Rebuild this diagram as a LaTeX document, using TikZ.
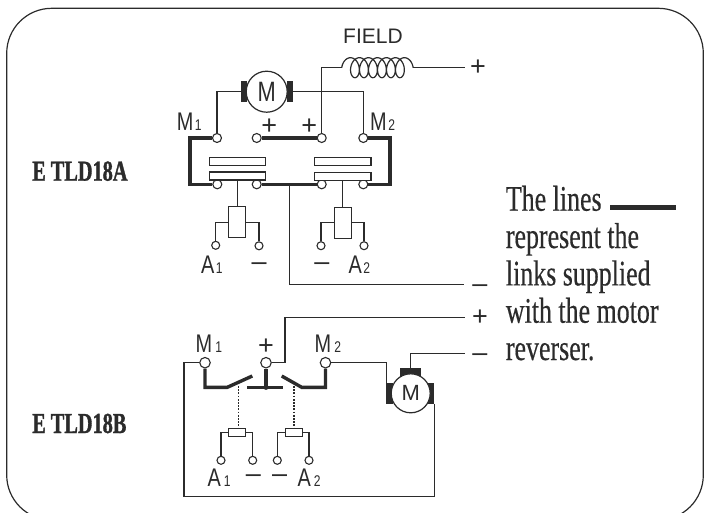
\documentclass[tikz,border=0pt]{standalone}
\usepackage{fontspec}
\setmainfont{Liberation Sans}
\newfontfamily\condsans[FakeStretch=0.78]{Liberation Sans}
\newfontfamily\plainsans{Liberation Sans}
\newfontfamily\condserif[FakeStretch=0.72,FakeBold=0.35]{Liberation Serif}
\newfontfamily\condbold[FakeStretch=0.70,FakeBold=1.2]{Liberation Serif Bold}
\definecolor{ink}{HTML}{2B2B2B}
\newcommand{\lblM}[2]{{\condsans\fontsize{25.5}{25.5}\selectfont #1\fontsize{15.5}{15.5}\selectfont\kern1.5pt #2}}
\tikzset{
  wire/.style={draw=ink,line width=1.2pt},
  link/.style={draw=ink,line width=3.4pt,line cap=butt,line join=miter},
  term/.style={circle,draw=ink,line width=1.1pt,fill=white,minimum size=#1,inner sep=0pt},
  term/.default=9pt,
  motor/.style={circle,draw=ink,line width=1.2pt,fill=white,minimum size=#1,inner sep=0pt,text=ink},
  brush/.style={rectangle,fill=ink,draw=none,inner sep=0pt,minimum width=#1},
  contact/.style={rectangle,draw=ink,line width=1.1pt,fill=white,inner sep=0pt,minimum width=56.5pt,minimum height=8pt},
  relay/.style={rectangle,draw=ink,line width=1.1pt,fill=white,inner sep=0pt,minimum width=17pt},
  lbl/.style={anchor=base west,inner sep=0pt,text=ink},
  sym/.style={anchor=base,inner sep=0pt,text=ink,font=\plainsans\fontsize{27}{27}\selectfont},
  prose/.style={anchor=base west,inner sep=0pt,text=ink,font=\condserif\fontsize{36}{37}\selectfont},
  model/.style={anchor=base west,inner sep=0pt,text=ink,font=\condbold\fontsize{29}{29}\selectfont},
  dots/.style={draw=ink,line width=1.4pt,dash pattern=on 1.7pt off 1.5pt},
}
\begin{document}
\begin{tikzpicture}[x=1pt,y=-1pt]
\useasboundingbox (0,0) rectangle (715,512);
\clip (0,0) rectangle (715,512);
\draw[ink,line width=1.2pt,rounded corners=45pt] (6.7,8.3) rectangle (703.3,520);

% ---------- E TLD18A ----------
\node[model] (modelA) at (32,180.7) {E TLD18A};
\node[lbl,font=\plainsans\fontsize{21}{21}\selectfont] (field) at (343,43) {FIELD};

\node[brush=6pt,minimum height=21pt] (brAL) at (244,91.7) {};
\node[brush=6pt,minimum height=21pt] (brAR) at (289.5,91.7) {};
\node[motor=41pt,font=\condsans\fontsize{28}{28}\selectfont] (motA) at (266.7,91.7) {M};

\node[term] (a1) at (217,138) {};
\node[term] (a2) at (256.7,138) {};
\node[term] (a3) at (321.7,138) {};
\node[term] (a4) at (363.3,138) {};
\node[term] (b1) at (217.3,184.3) {};
\node[term] (b2) at (256.7,184.3) {};
\node[term] (b3) at (321.7,184.3) {};
\node[term] (b4) at (363.3,184.3) {};

\draw[wire] (brAL.west) -| (a1);
\draw[wire] (brAR.east) -| (a4);

\coordinate (coilL) at (341.7,67.7);
\coordinate (coilR) at (413.2,67.7);
\coordinate (fieldEnd) at (465,67.7);
\draw[wire] (a3) |- (coilL);
\draw[wire] (coilR) -- (fieldEnd);
\draw[wire,samples=220,variable=\t,domain=-90:2250]
  plot[smooth] ({348.2+0.025*(\t+90)+6.5*sin(\t)},{67.7-10*cos(\t)});
\node[sym] (plusField) at (478,75.5) {+};

\node[lbl] (labM1a) at (176.7,130.7) {\lblM{M}{1}};
\node[lbl] (labM2a) at (370,130.7) {\lblM{M}{2}};
\node[sym] (plusA1) at (269.3,134) {+};
\node[sym] (plusA2) at (309.3,134) {+};

\coordinate (lkTL) at (190,138);
\coordinate (lkBL) at (190,184.3);
\coordinate (lkTR) at (390,138);
\coordinate (lkBR) at (390,184.3);
\draw[link] (a1) -- (lkTL) -- (lkBL) -- (b1);
\draw[link] (a2) -- (a3);
\draw[link] (a4) -- (lkTR) -- (lkBR) -- (b4);
\draw[link] (b2) -- (b3);

\node[contact] (c1t) at (237.5,161.7) {};
\node[contact] (c1b) at (237.5,176) {};
\node[contact] (c2t) at (342.7,161.7) {};
\node[contact] (c2b) at (342.7,176.3) {};

\node[relay,minimum height=31pt] (r1) at (237.3,222.2) {};
\node[relay,minimum height=31pt] (r2) at (342.6,222.8) {};
\node[term=8pt] (d1) at (215.7,245.3) {};
\node[term=8pt] (d2) at (259,245.8) {};
\node[term=8pt] (d3) at (321,245.7) {};
\node[term=8pt] (d4) at (364,245.7) {};
\draw[wire] (c1b.south -| r1.north) -- (r1.north);
\draw[wire] (c2b.south -| r2.north) -- (r2.north);
\draw[wire] (r1.west) -| (d1);
\draw[wire] (r1.east) -| (d2);
\draw[wire] (r2.west) -| (d3);
\draw[wire] (r2.east) -| (d4);

\node[lbl] (labA1a) at (201,273.3) {\lblM{A}{1}};
\node[lbl] (labA2a) at (348.5,273.3) {\lblM{A}{2}};
\node[sym] (minusA1) at (259.2,270.5) {–};
\node[sym] (minusA2) at (321.8,270.5) {–};

\coordinate (minusJ) at (289.3,184.3);
\coordinate (minusEnd) at (464.3,284.7);
\draw[wire] (minusJ) |- (minusEnd);
\node[sym] (minusTop) at (480,292.5) {–};

% ---------- legend ----------
\node[prose] (t1) at (505.7,210.7) {The lines};
\node[prose] (t2) at (505.7,248) {represent the};
\node[prose] (t3) at (505.7,285.4) {links supplied};
\node[prose] (t4) at (505.7,322.7) {with the motor};
\node[prose] (t5) at (505.7,360) {reverser.};
\coordinate (legL) at (610,207.3);
\coordinate (legR) at (676,207.3);
\draw[ink,line width=5.5pt] (legL) -- (legR);

% ---------- E TLD18B ----------
\node[model] (modelB) at (32,433) {E TLD18B};

\node[term=10.5pt] (e1) at (205,362.7) {};
\node[term=10.5pt] (e2) at (266,362.7) {};
\node[term=10.5pt] (e3) at (325.5,362.7) {};

\node[brush=7pt,minimum height=21pt] (brBL) at (389.3,393.7) {};
\node[brush=6pt,minimum height=21pt] (brBR) at (431.3,393.7) {};
\node[brush=20.5pt,minimum height=7.5pt] (brBT) at (410.3,372.2) {};
\node[motor=39pt,font=\plainsans\fontsize{22}{22}\selectfont] (motB) at (410.7,393.3) {M};

\coordinate (plusCorner) at (285,362.7);
\coordinate (plusTop) at (285,317.3);
\coordinate (plusEnd) at (465,317.3);
\draw[wire] (e2) -- (plusCorner) -- (plusTop) -- (plusEnd);
\node[sym] (plusB) at (480,325.5) {+};
\coordinate (negEnd) at (465,353.3);
\draw[wire] (brBT.north) |- (negEnd);
\node[sym] (minusB) at (480,361.8) {–};
\coordinate (m2c) at (386.7,362.7);
\draw[wire] (e3) -- (m2c) -- (m2c |- brBL.north);
\coordinate (frameBL) at (184,496.7);
\coordinate (frameTL) at (184,362.7);
\coordinate (frameBR) at (434.3,496.7);
\draw[wire] (e1) -- (frameTL) -- (frameBL) -- (frameBR) -- (frameBR |- brBR.south);

\coordinate (swL0) at (205,387.3);
\coordinate (swL1) at (227.3,387.3);
\coordinate (swL2) at (252.3,376);
\coordinate (swR0) at (325.5,387.3);
\coordinate (swR1) at (301.7,387.3);
\coordinate (swR2) at (281.7,376);
\coordinate (swMl) at (247.3,387.3);
\coordinate (swMr) at (283.3,387.3);
\coordinate (swM) at (266,387.3);
\draw[link] (e1) -- (swL0) -- (swL1) -- (swL2);
\draw[link] (e3) -- (swR0) -- (swR1) -- (swR2);
\draw[link] (e2) -- (swM);
\draw[link] (swMl) -- (swMr);
\fill[ink] (swM) circle (2.6pt);

\node[relay,minimum height=8.4pt] (r3) at (237.3,432.5) {};
\node[relay,minimum height=8.4pt] (r4) at (294,432.5) {};
\coordinate (dotA) at (238.3,386);
\coordinate (dotB) at (294,386);
\draw[dots] (dotA) -- (dotA |- r3.north);
\draw[dots] (dotB) -- (dotB |- r4.north);

\node[term=8pt] (f1) at (221,460.3) {};
\node[term=8pt] (f2) at (252.7,460.3) {};
\node[term=8pt] (f3) at (277.3,460.3) {};
\node[term=8pt] (f4) at (309,460.3) {};
\draw[wire] (r3.west) -| (f1);
\draw[wire] (r3.east) -| (f2);
\draw[wire] (r4.west) -| (f3);
\draw[wire] (r4.east) -| (f4);

\node[lbl] (labM1b) at (195.5,352.7) {\lblM{M}{\kern1.5pt1}};
\node[sym] (plusM) at (266,354.5) {+};
\node[lbl] (labM2b) at (314.5,352.7) {\lblM{M}{\kern1.5pt2}};
\node[lbl] (labA1b) at (207.5,486) {\lblM{A}{\kern1.5pt1}};
\node[sym] (minusB1) at (253.5,482.5) {–};
\node[sym] (minusB2) at (279.7,482.5) {–};
\node[lbl] (labA2b) at (297.5,486) {\lblM{A}{\kern1.5pt2}};
\end{tikzpicture}
\end{document}
